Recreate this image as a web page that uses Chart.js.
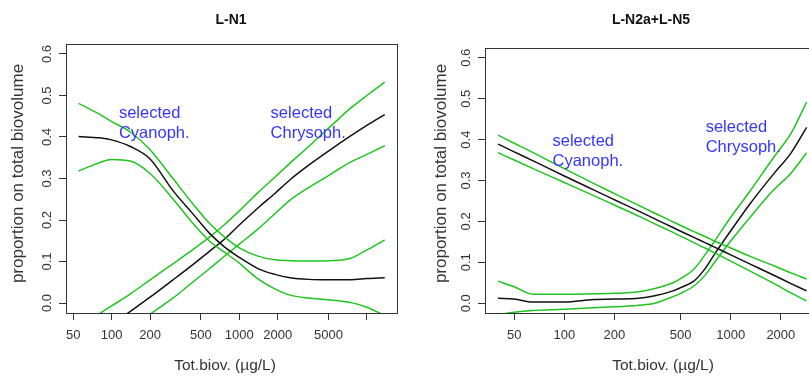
<!DOCTYPE html>
<html>
<head>
<meta charset="utf-8">
<script src="https://cdn.jsdelivr.net/npm/chart.js@4.4.1/dist/chart.umd.min.js"></script>
<style>
    html, body { margin: 0; padding: 0; background: #fff; overflow: hidden; width: 809px; height: 377px; }
    #p1 { position: absolute; left: 0; top: 0; }
    #p2 { position: absolute; left: 404px; top: 0; }
</style>
</head>
<body>
<canvas id="p1" width="404" height="377"></canvas>
<canvas id="p2" width="430" height="377"></canvas>
<script>
// ---- L-N1 (left panel) ----
const xN1 = [55, 80, 100, 140, 200, 300, 430, 580, 760, 1000, 1400, 1900, 2500, 3500, 5000, 7500, 10000, 13800];
const cyanoFitN1 = [0.401, 0.398, 0.393, 0.377, 0.347, 0.272, 0.216, 0.169, 0.136, 0.110, 0.083, 0.069, 0.061, 0.057, 0.056, 0.056, 0.059, 0.061];
const cyanoHiN1 = [0.481, 0.455, 0.437, 0.412, 0.369, 0.301, 0.240, 0.193, 0.160, 0.133, 0.113, 0.104, 0.102, 0.101, 0.102, 0.108, 0.128, 0.152];
const cyanoLoN1 = [0.318, 0.338, 0.346, 0.342, 0.312, 0.252, 0.193, 0.150, 0.123, 0.096, 0.058, 0.034, 0.019, 0.012, 0.008, 0.001, -0.010, -0.030];
const chrysoFitN1 = [-0.109, -0.073, -0.052, -0.020, 0.014, 0.055, 0.092, 0.124, 0.153, 0.188, 0.229, 0.264, 0.297, 0.332, 0.366, 0.403, 0.428, 0.454];
const chrysoHiN1 = [-0.060, -0.026, -0.007, 0.022, 0.056, 0.094, 0.128, 0.158, 0.188, 0.222, 0.266, 0.303, 0.337, 0.377, 0.421, 0.470, 0.500, 0.532];
const chrysoLoN1 = [-0.173, -0.130, -0.105, -0.067, -0.027, 0.011, 0.050, 0.082, 0.112, 0.142, 0.178, 0.215, 0.248, 0.278, 0.307, 0.340, 0.358, 0.379];

// ---- L-N2a+L-N5 (right panel) ----
const xN2 = [40, 50, 65, 100, 150, 200, 280, 350, 450, 500, 600, 700, 800, 1000, 1300, 1800, 2300, 2857];
const cyanoFitN2 = [0.389, 0.370, 0.348, 0.311, 0.277, 0.253, 0.225, 0.206, 0.185, 0.176, 0.161, 0.148, 0.137, 0.118, 0.096, 0.069, 0.048, 0.030];
const cyanoHiN2 = [0.411, 0.391, 0.368, 0.329, 0.293, 0.268, 0.239, 0.220, 0.199, 0.190, 0.175, 0.163, 0.152, 0.135, 0.115, 0.092, 0.074, 0.059];
const cyanoLoN2 = [0.368, 0.350, 0.329, 0.295, 0.263, 0.240, 0.213, 0.194, 0.173, 0.164, 0.148, 0.135, 0.123, 0.103, 0.079, 0.049, 0.025, 0.005];
const chrysoFitN2 = [0.012, 0.010, 0.003, 0.003, 0.009, 0.010, 0.012, 0.018, 0.030, 0.038, 0.054, 0.084, 0.120, 0.177, 0.242, 0.315, 0.367, 0.430];
const chrysoHiN2 = [0.054, 0.040, 0.022, 0.022, 0.023, 0.024, 0.028, 0.036, 0.050, 0.060, 0.083, 0.118, 0.152, 0.210, 0.273, 0.355, 0.415, 0.492];
const chrysoLoN2 = [-0.028, -0.022, -0.018, -0.015, -0.011, -0.009, -0.005, 0.000, 0.016, 0.024, 0.042, 0.068, 0.100, 0.152, 0.209, 0.276, 0.318, 0.368];

// axis ticks
const xTicksN1 = [50, 100, 200, 500, 1000, 2000, 5000, 10000];
const xTickLabelsN1 = ["50", "100", "200", "500", "1000", "2000", "5000", ""];
const xTicksN2 = [50, 100, 200, 500, 1000, 2000];
const xTickLabelsN2 = ["50", "100", "200", "500", "1000", "2000"];
const yTicks = [0, 0.1, 0.2, 0.3, 0.4, 0.5, 0.6];
const yTickLabels = ["0.0", "0.1", "0.2", "0.3", "0.4", "0.5", "0.6"];

// blue notes (anchored in data units)
const noteText = [["selected", "Cyanoph."], ["selected", "Chrysoph."]];
const noteXN1 = [114, 1760];
const noteYN1 = [0.445, 0.445];
const noteXN2 = [85, 707];
const noteYN2 = [0.385, 0.419];

const FONT = '"Liberation Sans", Arial, sans-serif';
const GREEN = "#1fc41f";
const BLACK = "#111";
const AXIS = "#333";
Chart.defaults.font.family = FONT;

function pts(xs, ys) {
    return xs.map((x, i) => ({ x: x, y: ys[i] }));
}

function line(xs, ys, color) {
    return {
        data: pts(xs, ys),
        borderColor: color,
        borderWidth: 1.5,
        pointRadius: 0,
        cubicInterpolationMode: "monotone",
        fill: false
    };
}

// box, titles, blue notes
const decor = {
    id: "decor",
    afterDraw(chart, args, o) {
        const { ctx, chartArea: a, scales } = chart;
        ctx.save();
        ctx.strokeStyle = AXIS;
        ctx.lineWidth = 1;
        ctx.strokeRect(Math.round(a.left) + 0.5, Math.round(a.top) + 0.5,
            Math.round(a.right - a.left), Math.round(a.bottom - a.top));

        ctx.textAlign = "center";
        ctx.textBaseline = "middle";
        ctx.fillStyle = BLACK;
        ctx.font = "bold 14px " + FONT;
        ctx.fillText(o.title, o.titleX, 20);

        ctx.fillStyle = AXIS;
        ctx.font = "15.5px " + FONT;
        ctx.fillText("Tot.biov. (\u00b5g/L)", o.xTitleX, 366);

        ctx.save();
        ctx.font = "17px " + FONT;
        ctx.translate(o.yTitleX, 173.5);
        ctx.rotate(-Math.PI / 2);
        ctx.fillText("proportion on total biovolume", 0, 0);
        ctx.restore();

        ctx.fillStyle = "#3535ff";
        ctx.font = "16.5px " + FONT;
        ctx.textAlign = "left";
        ctx.textBaseline = "alphabetic";
        noteText.forEach((lines, i) => {
            const px = scales.x.getPixelForValue(o.noteX[i]);
            const py = scales.y.getPixelForValue(o.noteY[i]);
            lines.forEach((t, j) => ctx.fillText(t, px, py + j * 20));
        });
        ctx.restore();
    }
};

function makePanel(id, p) {
    new Chart(document.getElementById(id), {
        type: "line",
        data: {
            datasets: [
                line(p.xs, p.cyanoFit, BLACK),
                line(p.xs, p.cyanoHi, GREEN),
                line(p.xs, p.cyanoLo, GREEN),
                line(p.xs, p.chrysoFit, BLACK),
                line(p.xs, p.chrysoHi, GREEN),
                line(p.xs, p.chrysoLo, GREEN)
            ]
        },
        options: {
            responsive: false,
            animation: false,
            devicePixelRatio: 1,
            events: [],
            layout: { padding: { left: 0, top: p.top, right: p.right, bottom: 0 } },
            plugins: {
                legend: { display: false },
                tooltip: { enabled: false },
                title: { display: false },
                decor: p.decor
            },
            scales: {
                x: {
                    type: "logarithmic",
                    position: "bottom",
                    min: p.xMin,
                    max: p.xMax,
                    bounds: "data",
                    afterBuildTicks: s => { s.ticks = p.xTicks.map(v => ({ value: v })); },
                    afterFit: s => { s.height = 64; },
                    border: { display: false },
                    grid: { drawOnChartArea: false, drawTicks: true, tickLength: 7, color: AXIS, lineWidth: 1 },
                    ticks: {
                        autoSkip: false,
                        maxRotation: 0,
                        padding: 8,
                        color: AXIS,
                        font: { size: 13 },
                        callback: (v, i) => p.xLabels[i]
                    }
                },
                y: {
                    type: "linear",
                    min: -0.024,
                    max: 0.624,
                    bounds: "data",
                    afterBuildTicks: s => { s.ticks = yTicks.map(v => ({ value: v })); },
                    afterFit: s => { s.width = p.yWidth; },
                    border: { display: false },
                    grid: { drawOnChartArea: false, drawTicks: true, tickLength: 7, color: AXIS, lineWidth: 1 },
                    ticks: {
                        autoSkip: false,
                        minRotation: 90,
                        maxRotation: 90,
                        crossAlign: "center",
                        padding: p.yPad,
                        color: AXIS,
                        font: { size: 13 },
                        callback: (v, i) => yTickLabels[i]
                    }
                }
            }
        },
        plugins: [decor]
    });
}

makePanel("p1", {
    xs: xN1,
    cyanoFit: cyanoFitN1, cyanoHi: cyanoHiN1, cyanoLo: cyanoLoN1,
    chrysoFit: chrysoFitN1, chrysoHi: chrysoHiN1, chrysoLo: chrysoLoN1,
    xMin: 43.85, xMax: 17220,
    xTicks: xTicksN1, xLabels: xTickLabelsN1,
    top: 44, right: 7, yWidth: 66, yPad: 3,
    decor: { title: "L-N1", titleX: 231, xTitleX: 225, yTitleX: 18.5, noteX: noteXN1, noteY: noteYN1 }
});

makePanel("p2", {
    xs: xN2,
    cyanoFit: cyanoFitN2, cyanoHi: cyanoHiN2, cyanoLo: cyanoLoN2,
    chrysoFit: chrysoFitN2, chrysoHi: chrysoHiN2, chrysoLo: chrysoLoN2,
    xMin: 33.4, xMax: 3390,
    xTicks: xTicksN2, xLabels: xTickLabelsN2,
    top: 48, right: 15, yWidth: 81, yPad: 2.5,
    decor: { title: "L-N2a+L-N5", titleX: 247, xTitleX: 259, yTitleX: 37.5, noteX: noteXN2, noteY: noteYN2 }
});
</script>
</body>
</html>
